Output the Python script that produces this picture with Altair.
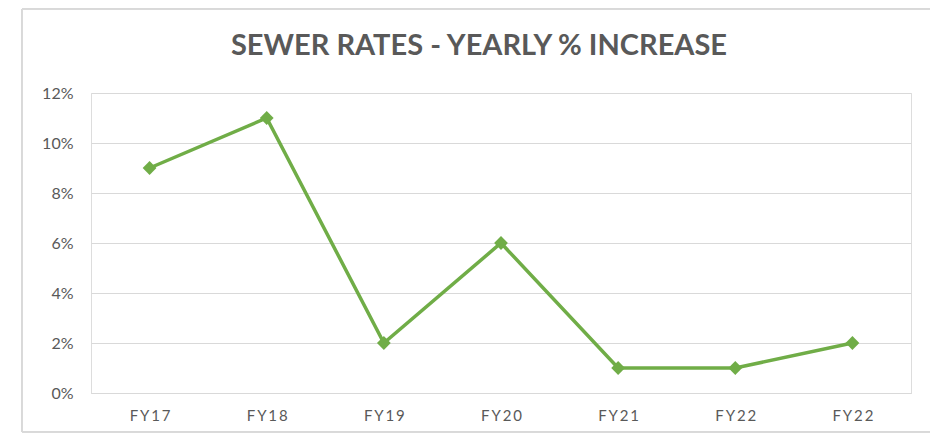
import altair as alt
import pandas as pd

title_text = "SEWER RATES - YEARLY % INCREASE"
categories = ["FY17", "FY18", "FY19", "FY20", "FY21", "FY22", "FY22"]
values = [0.09, 0.11, 0.02, 0.06, 0.01, 0.01, 0.02]
y_ticks = [0, 0.02, 0.04, 0.06, 0.08, 0.10, 0.12]

df = pd.DataFrame({"idx": list(range(len(categories))), "label": categories, "value": values})

spaced = ["\u2009".join(list(c)) for c in categories]
label_expr = "[" + ",".join("'" + s + "'" for s in spaced) + "][datum.value]"

GRID = "#d9d9d9"
TEXT = "#595959"
GREEN = "#70AD47"

x = alt.X("idx:O", title=None,
          scale=alt.Scale(paddingInner=0, paddingOuter=0),
          axis=alt.Axis(labelExpr=label_expr, labelAngle=0, ticks=False,
                        domainColor=GRID, labelPadding=15, labelFontSize=15,
                        labelColor=TEXT, labelFont="Lato"))
y = alt.Y("value:Q", title=None,
          scale=alt.Scale(domain=[0, 0.12], nice=False),
          axis=alt.Axis(format=".0%", values=y_ticks,
                        ticks=False, domain=False, gridColor=GRID, labelPadding=18,
                        labelFontSize=16, labelColor=TEXT, labelFont="Lato"))

line = alt.Chart(df).mark_line(color=GREEN, strokeWidth=3.5).encode(x=x, y=y)
pts = alt.Chart(df).mark_point(shape="diamond", filled=True, size=190, color=GREEN, opacity=1).encode(x=x, y=y)

border = alt.Chart(df).mark_rect(fillOpacity=0, stroke=GRID, strokeWidth=1, clip=False).encode(
    x=alt.value(-69), x2=alt.value(844), y=alt.value(-84), y2=alt.value(339)
)

title = alt.Chart(pd.DataFrame({"t": [title_text]})).mark_text(
    font="Lato", fontSize=29, fontWeight="bold", color=TEXT,
    align="center", baseline="alphabetic", clip=False,
).encode(text="t:N", x=alt.value(388), y=alt.value(-38))

chart = alt.layer(border, line, pts, title).properties(
    width=820, height=300,
    autosize=alt.AutoSizeParams(type="none"),
    padding={"left": 83, "top": 85, "right": 19, "bottom": 40},
).configure_view(stroke=None).configure(background="white").configure_axisX(grid=False)

chart.save("out.html", embed_options={"renderer": "svg", "actions": False})
